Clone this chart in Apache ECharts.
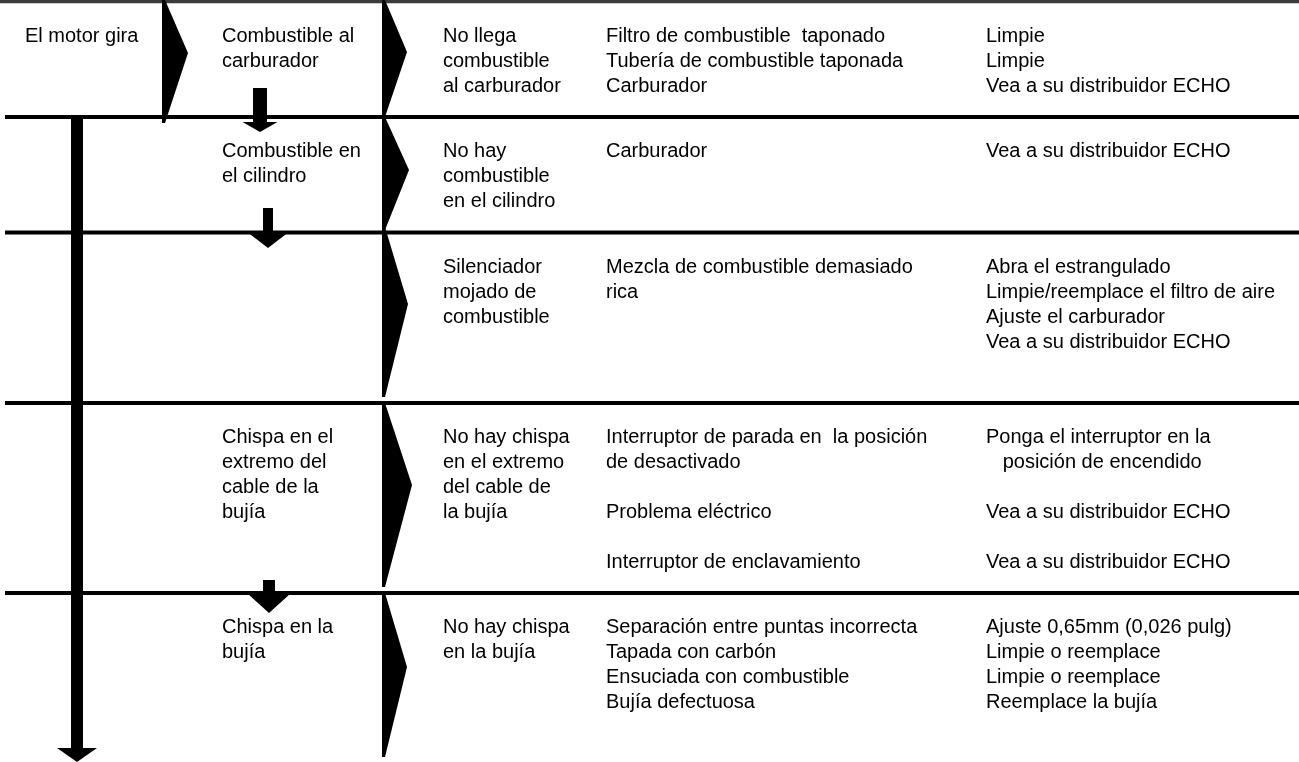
<!DOCTYPE html>
<html><head><meta charset="utf-8">
<script src="https://cdn.jsdelivr.net/npm/echarts@6/dist/echarts.min.js"></script>
<style>html,body{margin:0;padding:0;background:#fff;}#c{width:1299px;height:762px;}</style>
</head><body><div id="c"></div>
<script>
// ---- content (data) ----
const startLabel = ['El motor gira'];
const checks = [
  'Combustible al\ncarburador',
  'Combustible en\nel cilindro',
  '',
  'Chispa en el\nextremo del\ncable de la\nbujía',
  'Chispa en la\nbujía'
];
const symptoms = [
  'No llega\ncombustible\nal carburador',
  'No hay\ncombustible\nen el cilindro',
  'Silenciador\nmojado de\ncombustible',
  'No hay chispa\nen el extremo\ndel cable de\nla bujía',
  'No hay chispa\nen la bujía'
];
const causes = [
  'Filtro de combustible  taponado\nTubería de combustible taponada\nCarburador',
  'Carburador',
  'Mezcla de combustible demasiado\nrica',
  'Interruptor de parada en  la posición\nde desactivado\n\nProblema eléctrico\n\nInterruptor de enclavamiento',
  'Separación entre puntas incorrecta\nTapada con carbón\nEnsuciada con combustible\nBujía defectuosa'
];
const remedies = [
  'Limpie\nLimpie\nVea a su distribuidor ECHO',
  'Vea a su distribuidor ECHO',
  'Abra el estrangulado\nLimpie/reemplace el filtro de aire\nAjuste el carburador\nVea a su distribuidor ECHO',
  'Ponga el interruptor en la\n   posición de encendido\n\nVea a su distribuidor ECHO\n\nVea a su distribuidor ECHO',
  'Ajuste 0,65mm (0,026 pulg)\nLimpie o reemplace\nLimpie o reemplace\nReemplace la bujía'
];

// ---- layout ----
const W = 1299, H = 762;
const rowTops = [1.5, 117, 232.5, 403, 593];
const colX = [25, 222, 443, 606, 986];
const textDy = 22, lineH = 25, fontSize = 20;
const FONT = '"Liberation Sans", Arial, Helvetica, sans-serif';
// chevrons: [leftX, top, tipX, tipY, bottom]
const chevrons = [
  [163, 0, 188, 53, 123],
  [383, 0, 407, 52, 117],
  [383, 117, 409, 170, 230],
  [383, 227, 408, 304, 397],
  [383, 403, 412, 485, 587],
  [383, 593, 407, 667, 757]
];
// arrows: [cx, stemTop, headTop, tipY, stemHalf, headHalf]
const arrows = [
  [260, 88, 122, 132, 7, 17.5],
  [268, 208, 233, 248, 5, 19.5],
  [269, 580, 594, 613, 6, 21],
  [77, 117, 748, 762, 6, 20]
];

const chart = echarts.init(document.getElementById('c'), null, {renderer: 'canvas'});

function textSeries(texts, col, rowsIdx) {
  return {
    type: 'custom',
    coordinateSystem: 'cartesian2d',
    silent: true,
    data: texts.map((t, i) => [rowsIdx ? rowsIdx[i] : i]),
    renderItem: function (params, api) {
      const i = params.dataIndex;
      const r = api.value(0);
      const p = api.coord([colX[col], rowTops[r] + textDy]);
      return {
        type: 'text',
        style: {
          text: texts[i], x: p[0], y: p[1],
          fill: '#000', fontSize: fontSize, fontFamily: FONT,
          lineHeight: lineH, align: 'left', verticalAlign: 'top'
        }
      };
    }
  };
}

const option = {
  animation: false,
  backgroundColor: '#fff',
  grid: {left: 0, right: 0, top: 0, bottom: 0},
  xAxis: {type: 'value', min: 0, max: W, show: false},
  yAxis: {type: 'value', min: 0, max: H, inverse: true, show: false},
  series: [
    { // horizontal row lines
      type: 'custom', coordinateSystem: 'cartesian2d', silent: true,
      data: rowTops.map((y, i) => [i]),
      renderItem: function (params, api) {
        const i = api.value(0);
        const y = rowTops[i];
        const a = api.coord([i === 0 ? 0 : 5, y]);
        const b = api.coord([W, y]);
        return {
          type: 'line',
          shape: {x1: a[0], y1: a[1], x2: b[0], y2: b[1]},
          style: {stroke: i === 0 ? '#3a3a3a' : '#000', lineWidth: i === 0 ? 3.5 : 4}
        };
      }
    },
    { // vertical line at col 2 in first row
      type: 'custom', coordinateSystem: 'cartesian2d', silent: true,
      data: [[0]],
      renderItem: function (params, api) {
        const a = api.coord([163.5, 0]);
        const b = api.coord([163.5, 120]);
        return {type: 'line', shape: {x1: a[0], y1: a[1], x2: b[0], y2: b[1]},
          style: {stroke: '#000', lineWidth: 2.5}};
      }
    },
    { // chevrons
      type: 'custom', coordinateSystem: 'cartesian2d', silent: true,
      data: chevrons.map((c, i) => [i]),
      renderItem: function (params, api) {
        const c = chevrons[api.value(0)];
        const pts = [
          [c[0] - 1, c[1]], [c[0] + 2, c[1]], [c[2], c[3]],
          [c[0] + 2, c[4]], [c[0] - 1, c[4]]
        ].map(q => api.coord(q));
        return {type: 'polygon', shape: {points: pts}, style: {fill: '#000'}};
      }
    },
    { // arrows
      type: 'custom', coordinateSystem: 'cartesian2d', silent: true,
      data: arrows.map((a, i) => [i]),
      renderItem: function (params, api) {
        const a = arrows[api.value(0)];
        const cx = a[0], st = a[1], ht = a[2], tip = a[3], sh = a[4], hh = a[5];
        const pts = [
          [cx - sh, st], [cx + sh, st], [cx + sh, ht], [cx + hh, ht],
          [cx, tip], [cx - hh, ht], [cx - sh, ht]
        ].map(q => api.coord(q));
        return {type: 'polygon', shape: {points: pts}, style: {fill: '#000'}};
      }
    },
    textSeries(startLabel, 0),
    textSeries(checks, 1),
    textSeries(symptoms, 2),
    textSeries(causes, 3),
    textSeries(remedies, 4)
  ]
};
chart.setOption(option);
</script>
</body></html>
